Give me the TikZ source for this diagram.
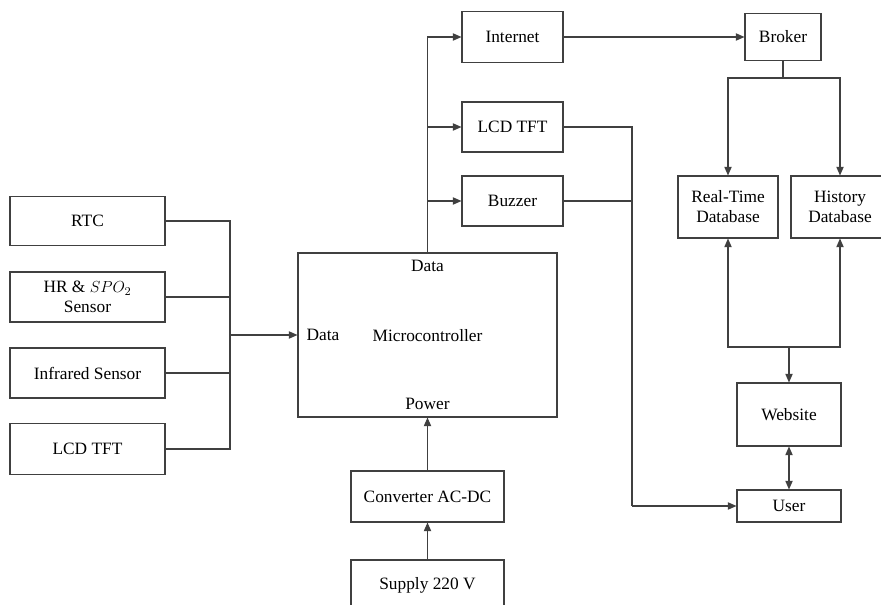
\documentclass[tikz,border=0pt]{standalone}
\usepackage{fontspec}
\setmainfont{Liberation Serif}
\newfontfamily\tnr{Liberation Serif}
\usetikzlibrary{arrows.meta}
\begin{document}
\begin{tikzpicture}[x=0.75pt,y=-0.75pt,
  every node/.style={font=\tnr\fontsize{13pt}{15pt}\selectfont, inner sep=1pt},
  box/.style n args={2}{draw=black!75, line width=0.8pt, align=center,
    minimum width=#1*0.75pt, minimum height=#2*0.75pt},
  conn/.style={draw=black!75, line width=0.8pt},
  arr/.style={conn, -{Triangle[length=6.5pt,width=5.5pt]}},
  arrtwo/.style={conn, {Triangle[length=6.5pt,width=5.5pt]}-{Triangle[length=6.5pt,width=5.5pt]}},
  lbl/.style={inner sep=0pt}]
\useasboundingbox (0,0) rectangle (881,605);
\clip (0,0) rectangle (881,605);
\fill[white] (0,0) rectangle (881,605);
% left inputs
\node[box={155}{49}] (rtc) at (87.5,221) {RTC};
\node[box={155}{50}] (hr) at (87.5,297) {HR \& $SPO_2$\\Sensor};
\node[box={155}{50}] (ir) at (87.5,373) {Infrared Sensor};
\node[box={155}{51}] (lcdl) at (87.5,449) {LCD TFT};
% microcontroller
\node[box={259}{164}] (micro) at (427.5,335) {};
\node[lbl] (dtop) at (427.5,266) {Data};
\node[lbl] (dleft) at (323,335) {Data};
\node[lbl] (mc) at (427.5,336) {Microcontroller};
\node[lbl] (pw) at (427.5,404) {Power};
% power
\node[box={153}{51}] (conv) at (427.5,496.5) {Converter AC-DC};
\node[box={153}{50}] (supply) at (427.5,585) {Supply 220 V};
% outputs
\node[box={101}{51}] (internet) at (512.5,37) {Internet};
\node[box={101}{50}] (lcdr) at (512.5,127) {LCD TFT};
\node[box={101}{50}] (buzzer) at (512.5,201) {Buzzer};
% cloud side
\node[box={76}{47}] (broker) at (783,37) {Broker};
\node[box={100}{62}] (rtdb) at (728,207) {Real-Time\\Database};
\node[box={98}{62}] (hist) at (840,207) {History\\Database};
\node[box={104}{63}] (web) at (789,414.5) {Website};
\node[box={104}{32}] (user) at (789,506) {User};
% coordinates
\coordinate (bus) at (230,335);
\coordinate (brk) at (783,78);
\coordinate (dbbus) at (789,347);
\coordinate (ucorner) at (632,506);
% input bus
\draw[conn] (rtc.east) -| (bus);
\draw[conn] (hr.east) -| (bus);
\draw[conn] (ir.east) -| (bus);
\draw[conn] (lcdl.east) -| (bus);
\draw[arr] (bus) -- (micro.west);
% outputs
\draw[arr] (micro.north) |- (internet.west);
\draw[arr] (micro.north) |- (lcdr.west);
\draw[arr] (micro.north) |- (buzzer.west);
% power
\draw[arr] (conv.north) -- (micro.south);
\draw[arr] (supply.north) -- (conv.south);
% internet to broker
\draw[arr] (internet.east) -- (broker.west);
\draw[conn] (broker.south) -- (brk);
\draw[arr] (brk) -| (rtdb.north);
\draw[arr] (brk) -| (hist.north);
% databases and website
\draw[arr] (dbbus) -| (rtdb.south);
\draw[arr] (dbbus) -| (hist.south);
\draw[arr] (dbbus) -- (web.north);
\draw[arrtwo] (web.south) -- (user.north);
% local outputs to user
\draw[conn] (lcdr.east) -| (ucorner);
\draw[conn] (buzzer.east) -| (ucorner);
\draw[arr] (ucorner) -- (user.west);
\end{tikzpicture}
\end{document}
